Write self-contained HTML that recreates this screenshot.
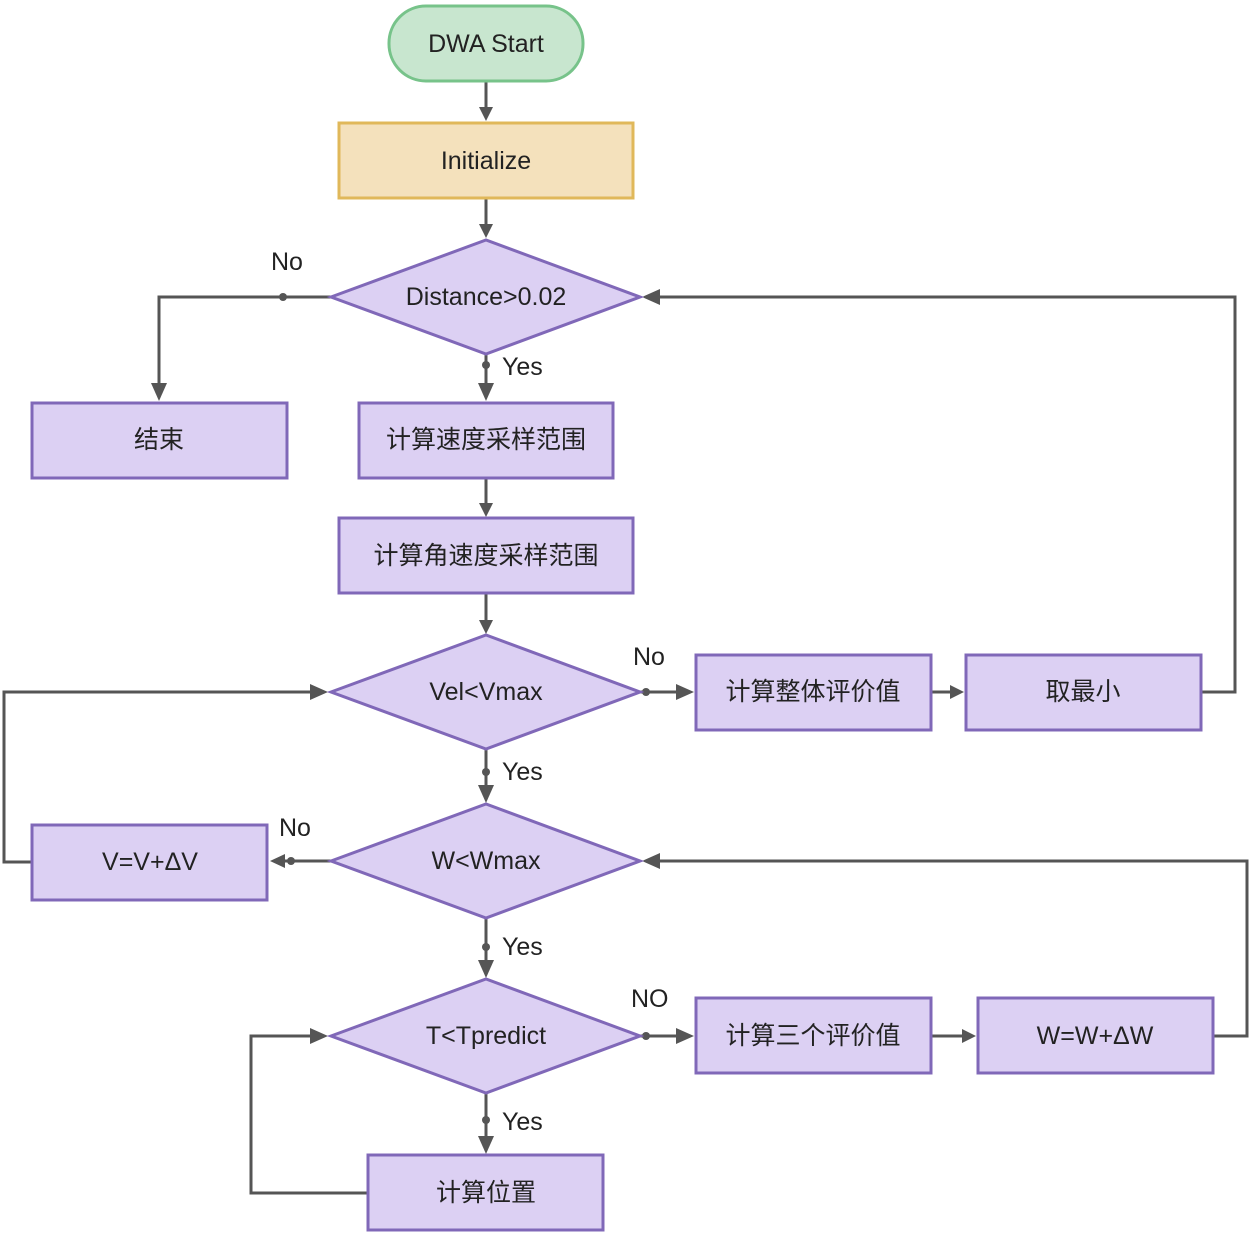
<!DOCTYPE html>
<html><head><meta charset="utf-8"><style>
html,body{margin:0;padding:0;background:#fff;}
svg text{font-family:"Liberation Sans","Noto Sans CJK SC",sans-serif;fill:#222;}
</style></head><body>
<svg width="1250" height="1236" viewBox="0 0 1250 1236" xmlns="http://www.w3.org/2000/svg">
<defs>
<marker id="a" markerWidth="8" markerHeight="8" refX="7" refY="4" orient="auto" markerUnits="userSpaceOnUse" viewBox="0 0 8 8">
</marker>
</defs>
<g fill="none" stroke="#555" stroke-width="3">
<path d="M486 81V110"/>
<path d="M486 198V226"/>
<path d="M331 297H159V386"/>
<path d="M486 354V386"/>
<path d="M486 478V504"/>
<path d="M486 593V621"/>
<path d="M640 692H680"/>
<path d="M931 692H950"/>
<path d="M1201 692H1235V297H656"/>
<path d="M486 749V788"/>
<path d="M331 861H283"/>
<path d="M32 862H4V692H314"/>
<path d="M486 918V963"/>
<path d="M640 1036H680"/>
<path d="M931 1036H962"/>
<path d="M1213 1036H1247V861H656"/>
<path d="M486 1093V1139"/>
<path d="M368 1193H251V1036H314"/>
</g>
<g fill="#555">
<path d="M479 107L493 107L486 121Z"/>
<path d="M479 224L493 224L486 238Z"/>
<path d="M151 383L167 383L159 401Z"/>
<path d="M478 383L494 383L486 401Z"/>
<path d="M479 503L493 503L486 517Z"/>
<path d="M479 620L493 620L486 634Z"/>
<path d="M676 684L676 700L694 692Z"/>
<path d="M950 685L950 699L964 692Z"/>
<path d="M660 289L660 305L642 297Z"/>
<path d="M478 785L494 785L486 803Z"/>
<path d="M285 854L285 868L270 861Z"/>
<path d="M310 684L310 700L328 692Z"/>
<path d="M660 853L660 869L642 861Z"/>
<path d="M478 960L494 960L486 978Z"/>
<path d="M676 1028L676 1044L694 1036Z"/>
<path d="M962 1029L962 1043L976 1036Z"/>
<path d="M478 1136L494 1136L486 1154Z"/>
<path d="M310 1028L310 1044L328 1036Z"/>
<circle cx="283" cy="297" r="4"/><circle cx="486" cy="365" r="4"/>
<circle cx="646" cy="692" r="4"/><circle cx="486" cy="772" r="4"/>
<circle cx="291" cy="861" r="4"/><circle cx="486" cy="947" r="4"/>
<circle cx="646" cy="1036" r="4"/><circle cx="486" cy="1120" r="4"/>
</g>
<rect x="389" y="6" width="194" height="75" rx="37" fill="#c8e6cf" stroke="#77c38a" stroke-width="3"/>
<rect x="339" y="123" width="294" height="75" fill="#f4e1bc" stroke="#e0b85a" stroke-width="3"/>
<g fill="#dcd0f3" stroke="#8068b8" stroke-width="3">
<path d="M331 297L486 240L640 297L486 354Z"/>
<path d="M331 692L486 635L640 692L486 749Z"/>
<path d="M331 861L486 804L640 861L486 918Z"/>
<path d="M331 1036L486 979L640 1036L486 1093Z"/>
<rect x="32" y="403" width="255" height="75"/>
<rect x="359" y="403" width="254" height="75"/>
<rect x="339" y="518" width="294" height="75"/>
<rect x="696" y="655" width="235" height="75"/>
<rect x="966" y="655" width="235" height="75"/>
<rect x="32" y="825" width="235" height="75"/>
<rect x="696" y="998" width="235" height="75"/>
<rect x="978" y="998" width="235" height="75"/>
<rect x="368" y="1155" width="235" height="75"/>
</g>
<g font-size="25" text-anchor="middle" dominant-baseline="central">
<text x="486" y="44">DWA Start</text>
<text x="486" y="161">Initialize</text>
<text x="486" y="297">Distance&gt;0.02</text>
<text x="159" y="440">结束</text>
<text x="486" y="440">计算速度采样范围</text>
<text x="486" y="556">计算角速度采样范围</text>
<text x="486" y="692">Vel&lt;Vmax</text>
<text x="813" y="692">计算整体评价值</text>
<text x="1083" y="692">取最小</text>
<text x="486" y="861">W&lt;Wmax</text>
<text x="150" y="862">V=V+ΔV</text>
<text x="486" y="1036">T&lt;Tpredict</text>
<text x="813" y="1036">计算三个评价值</text>
<text x="1095" y="1036">W=W+ΔW</text>
<text x="486" y="1193">计算位置</text>
</g>
<g font-size="25" dominant-baseline="central">
<text x="271" y="262">No</text>
<text x="502" y="367">Yes</text>
<text x="633" y="657">No</text>
<text x="502" y="772">Yes</text>
<text x="279" y="828">No</text>
<text x="502" y="947">Yes</text>
<text x="631" y="999">NO</text>
<text x="502" y="1122">Yes</text>
</g>
</svg>
</body></html>
